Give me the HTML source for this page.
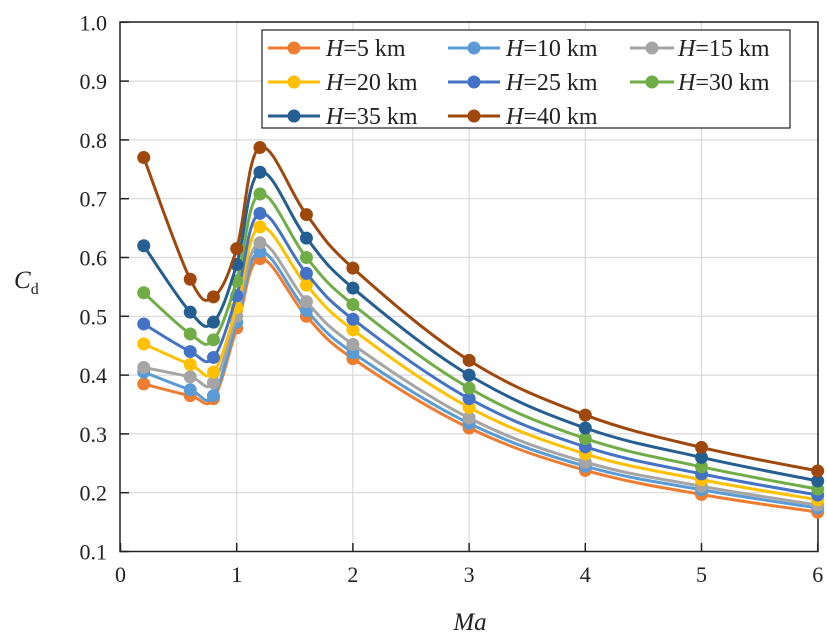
<!DOCTYPE html><html><head><style>body{margin:0;background:#fff}svg{display:block}text{font-family:"Liberation Serif",serif;fill:#222}</style></head><body>
<svg id="s" width="827" height="636" xmlns="http://www.w3.org/2000/svg"></svg>
<script>
const s=document.getElementById('s');let h='';
const X=v=>120.5+v*116.2,Y=v=>551.5-(v-0.1)*588;
for(let i=1;i<=6;i++)h+=`<line x1="${X(i)}" y1="22" x2="${X(i)}" y2="551" stroke="#d9d9d9" stroke-width="1.2"/>`;
for(let i=2;i<=10;i++){let v=i/10;h+=`<line x1="120" y1="${Y(v)}" x2="818" y2="${Y(v)}" stroke="#d9d9d9" stroke-width="1.2"/>`;}
h+=`<rect x="120" y="22" width="698" height="529.5" fill="none" stroke="#222" stroke-width="1.5"/>`;
for(let i=1;i<=10;i++){let v=i/10;h+=`<line x1="120" y1="${Y(v)}" x2="129" y2="${Y(v)}" stroke="#222" stroke-width="1.5"/><text x="107" y="${Y(v)+8}" font-size="22" text-anchor="end">${v.toFixed(1)}</text>`;}
for(let i=0;i<=6;i++){h+=`<line x1="${X(i)}" y1="551" x2="${X(i)}" y2="543" stroke="#222" stroke-width="1.5"/><text x="${X(i)}" y="582" font-size="22" text-anchor="middle">${i}</text>`;}
h+=`<text x="470" y="630" font-size="25" font-style="italic" text-anchor="middle">Ma</text>`;
h+=`<text x="14" y="288" font-size="25" font-style="italic">C<tspan font-size="16" font-style="normal" dy="6">d</tspan></text>`;
const M=[0.2,0.6,0.8,1.0,1.2,1.6,2,3,4,5,6];
const D=[
['#ED7D31','5',[0.385,0.365,0.36,0.48,0.598,0.50,0.428,0.31,0.238,0.197,0.167]],
['#5B9BD5','10',[0.405,0.375,0.365,0.49,0.61,0.51,0.438,0.318,0.245,0.205,0.174]],
['#A5A5A5','15',[0.413,0.397,0.387,0.50,0.625,0.525,0.452,0.327,0.252,0.211,0.179]],
['#FFC000','20',[0.453,0.418,0.405,0.515,0.652,0.553,0.477,0.345,0.266,0.222,0.188]],
['#4472C4','25',[0.487,0.44,0.43,0.535,0.675,0.573,0.495,0.36,0.278,0.232,0.196]],
['#70AD47','30',[0.54,0.47,0.46,0.56,0.708,0.60,0.52,0.378,0.292,0.244,0.206]],
['#255E91','35',[0.62,0.507,0.49,0.588,0.745,0.633,0.548,0.40,0.31,0.26,0.22]],
['#9E480E','40',[0.77,0.563,0.533,0.615,0.787,0.673,0.582,0.425,0.332,0.277,0.237]]];
D.forEach(([c,n,v])=>{const p=M.map((m,i)=>[X(m),Y(v[i])]);let d=`M${p[0]}`;const t=0.18;
for(let i=0;i<p.length-1;i++){const a=p[Math.max(0,i-1)],b=p[i],e=p[i+1],f=p[Math.min(p.length-1,i+2)];
d+=`C${b[0]+(e[0]-a[0])*t},${b[1]+(e[1]-a[1])*t} ${e[0]-(f[0]-b[0])*t},${e[1]-(f[1]-b[1])*t} ${e[0]},${e[1]}`;}
h+=`<path d="${d}" fill="none" stroke="${c}" stroke-width="3"/>`;p.forEach(q=>h+=`<circle cx="${q[0]}" cy="${q[1]}" r="6.5" fill="${c}"/>`);});
h+=`<rect x="262" y="30" width="528" height="98" fill="#fff" stroke="#222" stroke-width="1.2"/>`;
const L=[[0,0],[1,0],[2,0],[0,1],[1,1],[2,1],[0,2],[1,2]];const cx=[268,448,630],tx=[326,506,678],ry=[48,82,116];
D.forEach(([c,n],i)=>{const [col,row]=L[i];const x1=cx[col],y=ry[row],x2=x1+(col==2?44:52);
h+=`<line x1="${x1}" y1="${y}" x2="${x2}" y2="${y}" stroke="${c}" stroke-width="3"/><circle cx="${(x1+x2)/2}" cy="${y}" r="6.5" fill="${c}"/><text x="${tx[col]}" y="${y+8}" font-size="24"><tspan font-style="italic">H</tspan>=${n} km</text>`;});
s.innerHTML=h;
</script></body></html>
